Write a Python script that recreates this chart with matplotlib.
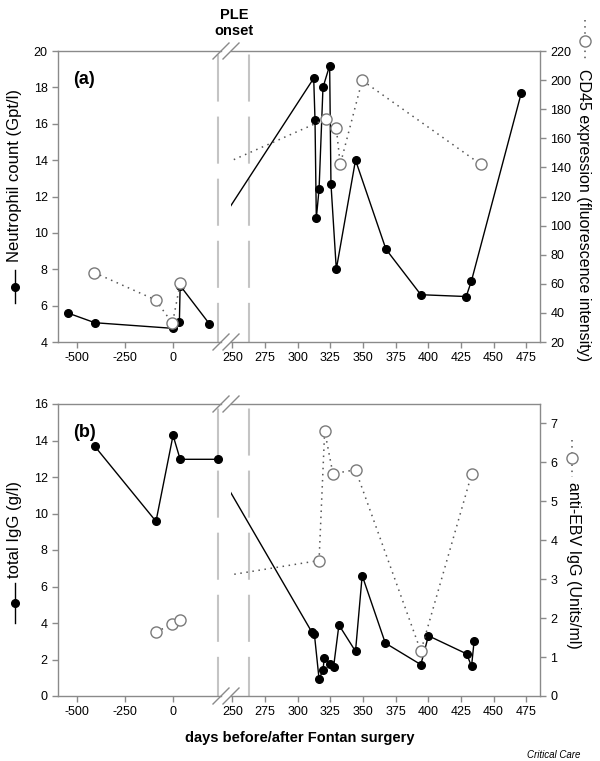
import numpy as np
import matplotlib
matplotlib.use('Agg')
import matplotlib.pyplot as plt
from matplotlib.lines import Line2D

plt.rcParams['font.family'] = ['Liberation Sans', 'DejaVu Sans']
plt.rcParams['axes.unicode_minus'] = False

# panel (a): neutrophil count (left axis) and CD45 expression (right axis)
neut_days = [-550, -408, 0, 33, 37, 190, 312.3, 313.3, 314.3, 316.4, 319.4, 324.5,
             325.5, 329.6, 344.3, 367.6, 394.3, 429, 433, 471.2]
neut_vals = [5.6, 5.06, 4.75, 5.12, 7.1, 4.99, 18.5, 16.2, 10.8, 12.4, 18.0, 19.2,
             12.7, 8.0, 14.0, 9.1, 6.6, 6.5, 7.35, 17.7]
cd45_days = [-411, -91, -3, 37, 321.4, 329.6, 332.6, 349.4, 440]
cd45_vals = [67.7, 48.9, 32.8, 60.4, 173.2, 167, 142, 199.8, 142.2]

# panel (b): total IgG (left axis) and anti-EBV IgG (right axis)
igg_days = [-408, -89, 0, 37, 234, 310.8, 312.8, 316.4, 319.4, 320.4, 324.5, 327.5,
            331.6, 344.3, 349.4, 367.1, 394.3, 400.1, 429.3, 433.1, 435.1]
igg_vals = [13.68, 9.57, 14.28, 12.97, 12.97, 3.51, 3.40, 0.93, 1.41, 2.10, 1.74, 1.59,
            3.89, 2.45, 6.60, 2.90, 1.72, 3.30, 2.31, 1.63, 3.02]
ebv_days = [-89, -3, 37, 316.4, 320.7, 327, 344.3, 394.3, 433.1]
ebv_vals = [1.65, 1.84, 1.96, 3.48, 6.81, 5.71, 5.81, 1.15, 5.69]

left_ticks = [-500, -250, 0]
right_ticks = [250, 275, 300, 325, 350, 375, 400, 425, 450, 475]
break_at = 250
ple_lines = (234, 263)

W, H = 600, 761
fig = plt.figure(figsize=(6, 7.61), dpi=100)
gray = '#8a8a8a'


def fx(px):
    return px / W


def fy(py):
    return 1 - py / H


def style(ax, spines):
    for s in ['left', 'right', 'top', 'bottom']:
        ax.spines[s].set_visible(s in spines)
        ax.spines[s].set_color(gray)
        ax.spines[s].set_linewidth(1.0)
    ax.tick_params(direction='out', length=4, color=gray, labelsize=9, width=1)


def panel(top, bottom, d1, v1, d2, v2, ylim1, yticks1, ylim2, yticks2, tag):
    h = (bottom - top) / H
    y0 = fy(bottom)
    axL = fig.add_axes([fx(58), y0, fx(221) - fx(58), h])
    axR = fig.add_axes([fx(231), y0, fx(540) - fx(231), h])
    d1, v1, d2, v2 = map(np.array, (d1, v1, d2, v2))
    m1 = d1 < break_at
    m2 = d2 < break_at

    for ax, xl in ((axL, (-600, 250)), (axR, (249, 485.5))):
        ax.set_xlim(*xl)
        ax.set_ylim(*ylim1)
        ax.set_facecolor('none')
    axL.set_xticks(left_ticks)
    axR.set_xticks(right_ticks)
    axL.set_yticks(yticks1)
    axR.set_yticks([])
    style(axL, ['left', 'top', 'bottom'])
    style(axR, ['top', 'bottom'])

    # PLE onset dashed lines
    for ax, x in ((axL, ple_lines[0]), (axR, ple_lines[1])):
        ax.axvline(x, color='#c4c4c4', lw=1.5, ls=(3.8, (22.6, 7.2)), zorder=1)

    axL.plot(d1[m1], v1[m1], '-', color='black', lw=1.0, marker='o', ms=5.5,
             mfc='black', mec='black', clip_on=False, zorder=3)
    axR.plot(d1, v1, '-', color='black', lw=1.0, marker='o', ms=5.5,
             mfc='black', mec='black', zorder=3)

    axL2 = axL.twinx()
    axR2 = axR.twinx()
    for ax in (axL2, axR2):
        ax.set_ylim(*ylim2)
    axL2.set_yticks([])
    axR2.set_yticks(yticks2)
    style(axL2, [])
    style(axR2, ['right'])
    axL2.tick_params(right=False, labelright=False)

    axL2.plot(d2[m2], v2[m2], color='#555555', lw=1.1, ls=(0, (1, 3)), marker='o', ms=8,
              mfc='white', mec='#7a7a7a', mew=1.0, clip_on=False)
    axR2.plot(d2, v2, color='#555555', lw=1.1, ls=(0, (1, 3)), marker='o', ms=8,
              mfc='white', mec='#7a7a7a', mew=1.0)

    axL.text(0.09, 0.93, tag, transform=axL.transAxes, fontsize=13,
             fontweight='bold', va='top')

    # break marks
    for py in (top, bottom):
        for px in (221, 231):
            fig.add_artist(Line2D([fx(px - 8), fx(px + 8)], [fy(py + 8), fy(py - 8)],
                                  color=gray, lw=1.0))


panel(51, 342, neut_days, neut_vals, cd45_days, cd45_vals,
      (4, 20), range(4, 21, 2), (20, 220), range(20, 221, 20), '(a)')
panel(404, 696, igg_days, igg_vals, ebv_days, ebv_vals,
      (0, 16), range(0, 17, 2), (0, 7.5), range(0, 8), '(b)')

# axis titles with their series glyphs
fig.text(fx(15), fy(175), 'Neutrophil count (Gpt/l)', rotation=90, ha='center',
         va='center', fontsize=12)
fig.add_artist(Line2D([fx(15), fx(15)], [fy(270), fy(303)], color='black', lw=1.0))
fig.add_artist(Line2D([fx(15)], [fy(287)], marker='o', ms=5.5, color='black'))

fig.text(fx(583), fy(215), 'CD45 expression (fluorescence intensity)', rotation=270,
         ha='center', va='center', fontsize=11.5)
fig.add_artist(Line2D([fx(585), fx(585)], [fy(20), fy(62)], color='#555555', lw=1.1,
                      ls=(0, (1, 3))))
fig.add_artist(Line2D([fx(585)], [fy(41)], marker='o', ms=8, mfc='white',
                      mec='#7a7a7a', mew=1.0))

fig.text(fx(15), fy(530), 'total IgG (g/l)', rotation=90, ha='center',
         va='center', fontsize=12)
fig.add_artist(Line2D([fx(15), fx(15)], [fy(583), fy(623)], color='black', lw=1.0))
fig.add_artist(Line2D([fx(15)], [fy(603)], marker='o', ms=5.5, color='black'))

fig.text(fx(573), fy(565), 'anti-EBV IgG (Units/ml)', rotation=270,
         ha='center', va='center', fontsize=11.5)
fig.add_artist(Line2D([fx(572), fx(572)], [fy(440), fy(477)], color='#555555', lw=1.1,
                      ls=(0, (1, 3))))
fig.add_artist(Line2D([fx(572)], [fy(458)], marker='o', ms=8, mfc='white',
                      mec='#7a7a7a', mew=1.0))

fig.text(fx(234), fy(23), 'PLE\nonset', ha='center', va='center', fontsize=10.5,
         fontweight='bold', linespacing=1.1)
fig.text(fx(300), fy(738), 'days before/after Fontan surgery', ha='center',
         va='center', fontsize=10.5, fontweight='bold')
fig.text(fx(580), fy(755), 'Critical Care', ha='right', va='center', fontsize=7,
         style='italic')

fig.savefig('out.png', dpi=100)
